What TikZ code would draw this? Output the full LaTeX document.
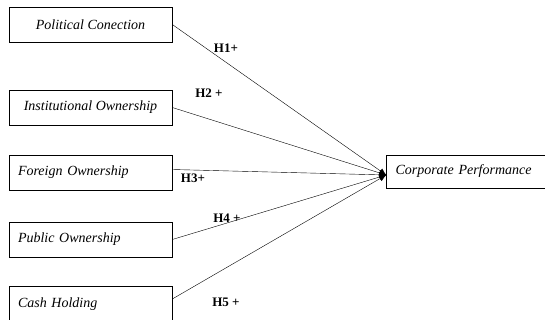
\documentclass[tikz,border=0pt]{standalone}
\usepackage{fontspec}
\setmainfont{Liberation Serif}
\usetikzlibrary{arrows.meta,positioning}

\begin{document}
\begin{tikzpicture}[x=1pt,y=-1pt,>={Latex[length=7pt,width=6pt]},
  varbox/.style={draw,line width=0.6pt,minimum width=163pt,minimum height=35pt,
    inner sep=0pt,font=\fontsize{14}{16}\selectfont\itshape},
  leftbox/.style={varbox,text width=145pt,align=left},
  hyp/.style={font=\fontsize{13}{15}\selectfont\bfseries,inner sep=0pt}]
\useasboundingbox (0,0) rectangle (545,320);
\node[varbox] (polit) at (90.5,24.5) {Political Conection};
\node[varbox] (inst) at (90.5,107.5) {Institutional Ownership};
\node[leftbox] (foreign) at (90.5,172.5) {Foreign Ownership};
\node[leftbox] (public) at (90.5,239.5) {Public Ownership};
\node[leftbox,minimum height=36pt] (cash) at (90.5,304) {Cash Holding};
\node[draw,line width=0.6pt,minimum width=159pt,minimum height=33pt,inner sep=0pt,
  text width=141pt,align=left,font=\fontsize{14}{16}\selectfont\itshape]
  (perf) at (466,171.5) {Corporate Performance};
\coordinate (tip) at ([yshift=-3.5pt]perf.west);
\draw[->] (polit.east) -- (tip);
\draw[->] (inst.east) -- (tip);
\draw[->] ([yshift=3pt]foreign.east) -- (tip);
\draw[->] (public.east) -- (tip);
\draw[->] ([yshift=5pt]cash.east) -- (tip);
\node[hyp] (h1) at (226,48) {H1+};
\node[hyp] (h2) at (209,93) {H2 +};
\node[hyp] (h3) at (193,178) {H3+};
\node[hyp] (h4) at (227,218) {H4 +};
\node[hyp] (h5) at (226,302) {H5 +};
\end{tikzpicture}
\end{document}
